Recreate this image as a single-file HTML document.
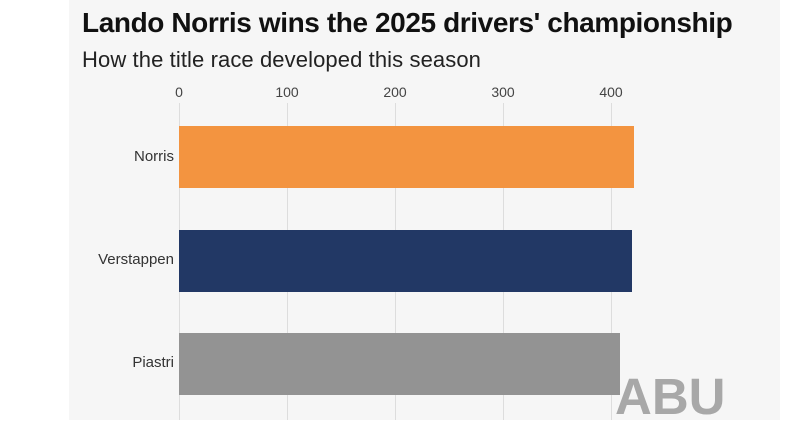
<!DOCTYPE html>
<html><head><style>
body{margin:0;width:800px;height:420px;background:#fff;overflow:hidden;font-family:"Liberation Sans",sans-serif;position:relative}
.panel{position:absolute;left:69px;top:0;width:711px;height:420px;background:#f6f6f6}
.t{position:absolute;left:82px;top:7px;font-size:28px;font-weight:bold;color:#111;letter-spacing:-0.4px;white-space:nowrap}
.s{position:absolute;left:82px;top:47px;font-size:22px;color:#222;white-space:nowrap;letter-spacing:0.1px}
.g{position:absolute;top:103px;height:317px;width:1px;background:#ddd}
.tk{position:absolute;top:84px;font-size:14px;color:#444;width:40px;margin-left:-20px;text-align:center}
.b{position:absolute;left:179px;height:62px}
.l{position:absolute;right:626px;font-size:15px;color:#333}
.w{position:absolute;left:615px;top:367px;font-size:51px;font-weight:bold;color:#a8a8a8;letter-spacing:0px}
</style></head><body>
<div class="panel"></div>
<div class="t">Lando Norris wins the 2025 drivers' championship</div>
<div class="s">How the title race developed this season</div>
<div class="g" style="left:179px"></div><div class="g" style="left:287px"></div><div class="g" style="left:395px"></div><div class="g" style="left:503px"></div><div class="g" style="left:611px"></div>
<div class="tk" style="left:179px">0</div><div class="tk" style="left:287px">100</div><div class="tk" style="left:395px">200</div><div class="tk" style="left:503px">300</div><div class="tk" style="left:611px">400</div>
<div class="b" style="top:126px;width:455px;background:#f39440"></div>
<div class="b" style="top:230px;width:453px;background:#223865"></div>
<div class="b" style="top:333px;width:441px;background:#939393"></div>
<div class="l" style="top:148px">Norris</div>
<div class="l" style="top:251px">Verstappen</div>
<div class="l" style="top:354px">Piastri</div>
<div class="w">ABU</div>
</body></html>
